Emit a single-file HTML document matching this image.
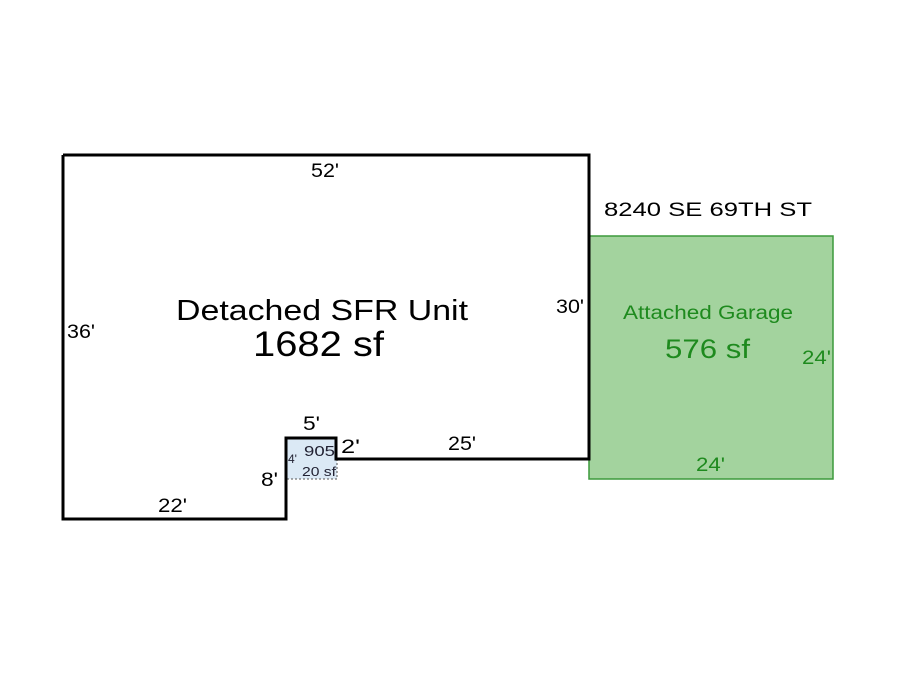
<!DOCTYPE html><html><head><style>body{margin:0;background:#fff}</style></head><body>
<svg width="900" height="675" xmlns="http://www.w3.org/2000/svg" style="font-family:'Liberation Sans',sans-serif">
<rect x="589" y="236" width="244" height="243" fill="#a3d39e" stroke="#3c9a3c" stroke-width="1.5"/>
<rect x="286" y="438" width="51" height="41" fill="#dbe9f5" stroke="#555" stroke-width="1" stroke-dasharray="2,2"/>
<polyline points="63,155 589,155 589,459 336,459 336,438 286,438 286,519 63,519 63,155" fill="none" stroke="#000" stroke-width="3"/>
<g font-size="19" fill="#000" lengthAdjust="spacingAndGlyphs">
<text x="311" y="177" textLength="28" lengthAdjust="spacingAndGlyphs">52'</text>
<text x="67" y="338" textLength="28" lengthAdjust="spacingAndGlyphs">36'</text>
<text x="556" y="313" textLength="28" lengthAdjust="spacingAndGlyphs">30'</text>
<text x="448" y="450" textLength="28" lengthAdjust="spacingAndGlyphs">25'</text>
<text x="341" y="453" textLength="19" lengthAdjust="spacingAndGlyphs">2'</text>
<text x="303" y="430" textLength="17" lengthAdjust="spacingAndGlyphs">5'</text>
<text x="261" y="486" textLength="17" lengthAdjust="spacingAndGlyphs">8'</text>
<text x="158" y="512" textLength="29" lengthAdjust="spacingAndGlyphs">22'</text>
<text x="604" y="216" textLength="208" lengthAdjust="spacingAndGlyphs">8240 SE 69TH ST</text>
</g>
<text x="176" y="320" font-size="29" textLength="292" lengthAdjust="spacingAndGlyphs">Detached SFR Unit</text>
<text x="253" y="356" font-size="35" textLength="131" lengthAdjust="spacingAndGlyphs">1682 sf</text>
<g fill="#1e8a1e">
<text x="623" y="319" font-size="19" textLength="170" lengthAdjust="spacingAndGlyphs">Attached Garage</text>
<text x="665" y="358" font-size="27" textLength="85" lengthAdjust="spacingAndGlyphs">576 sf</text>
<text x="802" y="364" font-size="19" textLength="29" lengthAdjust="spacingAndGlyphs">24'</text>
<text x="696" y="471" font-size="19" textLength="29" lengthAdjust="spacingAndGlyphs">24'</text>
</g>
<g fill="#223">
<text x="304" y="456" font-size="15" textLength="31" lengthAdjust="spacingAndGlyphs">905</text>
<text x="288" y="463" font-size="12">4'</text>
<text x="302" y="476" font-size="13" textLength="34" lengthAdjust="spacingAndGlyphs">20 sf</text>
</g>
</svg></body></html>
